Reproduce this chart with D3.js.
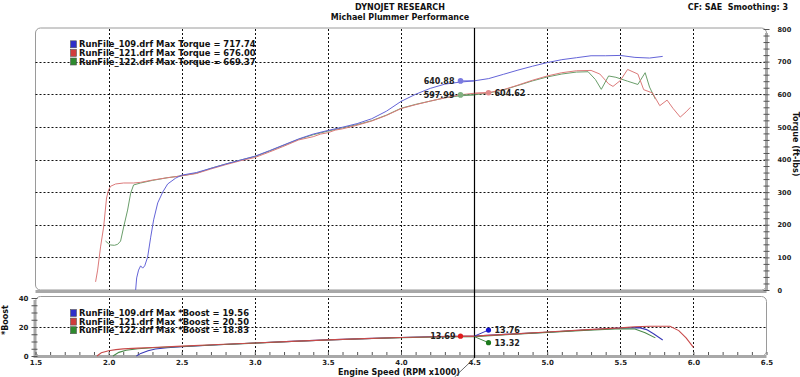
<!DOCTYPE html>
<html><head><meta charset="utf-8">
<script src="https://cdn.jsdelivr.net/npm/d3@7"></script>
<style>
html,body{margin:0;padding:0;background:#fff;}
svg{display:block;font-family:"DejaVu Sans",Verdana,sans-serif;font-weight:bold;}
</style></head>
<body>
<svg id="c" width="800" height="377"></svg>
<script>
// ---------- DATA ----------
const xTicks = [1.5,2.0,2.5,3.0,3.5,4.0,4.5,5.0,5.5,6.0,6.5];
const torqueTicks = [0,100,200,300,400,500,600,700,800];
const boostTicks = [0,20,40];
const seriesNames = ["RunFile_109.drf","RunFile_121.drf","RunFile_122.drf"];
const maxTorque = [717.74, 676.00, 669.37];
const maxBoost = [19.56, 20.50, 18.83];
const cursorRpm = 4.5;
const cursorTorque = [640.88, 604.62, 597.99];
const cursorBoost = [13.76, 13.69, 13.32];

const rpm109 = [2.185,2.192,2.205,2.219,2.233,2.247,2.267,2.288,2.308,2.336,2.370,2.404,2.459,2.5,2.6,2.7,2.8,2.9,3.0,3.1,3.2,3.3,3.4,3.5,3.6,3.7,3.8,3.9,4.0,4.1,4.2,4.3,4.4,4.5,4.6,4.7,4.8,4.9,5.0,5.1,5.2,5.3,5.4,5.5,5.6,5.7,5.79];
const tq109  = [0,37,61,74,67,74,101,162,215,267,300,325,343,352,360,373,386,398,410,427,445,463,478,489,499,510,525,548,578,600,618,631,637,641,648,661,674,686,697,706,712,718,718,719,713,711,716];

const rpm121 = [1.911,1.925,1.945,1.966,1.986,2.0,2.014,2.048,2.103,2.171,2.219,2.3,2.4,2.5,2.6,2.7,2.8,2.9,3.0,3.1,3.2,3.3,3.4,3.45,3.5,3.55,3.6,3.7,3.8,3.9,4.0,4.1,4.2,4.3,4.4,4.5,4.6,4.7,4.8,4.9,5.0,5.1,5.2,5.3,5.36,5.42,5.45,5.5,5.55,5.62,5.66,5.72,5.77,5.82,5.86,5.91,5.95,5.98];
const tq121  = [25,61,132,193,282,307,318,325,328,328,330,337,344,350,357,371,384,396,406,423,441,460,470,478,482,490,494,505,518,535,556,568,579,589,598,603,605,614,628,643,656,666,672,673,662,632,624,642,676,662,614,604,565,582,557,530,546,560];

const rpm122 = [1.979,2.0,2.014,2.04,2.062,2.082,2.103,2.13,2.151,2.171,2.219,2.3,2.4,2.5,2.6,2.7,2.8,2.9,3.0,3.1,3.2,3.3,3.4,3.5,3.6,3.7,3.8,3.9,4.0,4.1,4.2,4.3,4.4,4.5,4.6,4.7,4.8,4.9,5.0,5.1,5.2,5.28,5.33,5.37,5.42,5.47,5.55,5.62,5.67,5.7,5.74];
const tq122  = [150,142,138,137,140,150,193,245,297,322,328,336,344,350,358,373,386,398,409,426,444,462,476,487,497,507,519,536,557,569,579,589,595,598,604,613,627,641,653,662,668,669,645,615,656,652,640,630,666,622,585];

const bRpm109 = [2.19,2.22,2.27,2.32,2.4,2.5,2.75,3.0,3.25,3.5,3.75,4.0,4.25,4.5,4.75,5.0,5.25,5.5,5.63,5.68,5.73,5.79];
const boost109 = [0,1.8,3.6,4.8,5.7,6.4,7.8,9.0,10.1,11.1,12.0,12.8,13.4,13.76,15.1,16.4,17.9,19.2,19.56,18.2,15.2,11];
const bRpm121 = [1.92,1.95,2.0,2.05,2.1,2.2,2.3,2.5,2.75,3.0,3.25,3.5,3.75,4.0,4.25,4.5,4.75,5.0,5.25,5.5,5.6,5.7,5.84,5.9,5.95,6.0];
const boost121 = [0,2.2,3.6,4.4,4.9,5.4,5.9,6.8,7.9,9.0,10.1,11.1,12.0,12.8,13.3,13.69,15.1,16.5,18.0,19.4,20.2,20.5,20.5,17.5,12.5,6];
const bRpm122 = [2.03,2.07,2.12,2.2,2.3,2.5,2.75,3.0,3.25,3.5,3.75,4.0,4.25,4.5,4.75,5.0,5.25,5.5,5.6,5.67,5.74];
const boost122 = [0,2.5,4.0,5.0,5.7,6.6,7.8,8.9,10.0,11.0,11.9,12.7,13.1,13.32,14.9,16.3,17.7,18.8,18.6,16,12.5];

// ---------- STYLE / LAYOUT ----------
const lineCol = ["#6464d8","#dc7a7a","#6a9e6a"];
const boostCol = ["#3a3ab8","#c84a4a","#4a8a4a"];
const swatchCol = ["#2e2ec8","#d03c3c","#2e8a2e"];
const dotTop = ["#7a7ae0","#e08a8a","#80b080"];
const dotBot = ["#1414d0","#e01c1c","#1c7a1c"];
const L = 35.5, R = 766.5;
const T1 = 29, B1 = 290, T2 = 298, B2 = 356;
const tickFont = 6.6;

const svg = d3.select("#c");
const x = d3.scaleLinear().domain([1.5,6.5]).range([L,R]);
const yT = d3.scaleLinear().domain([0,800]).range([B1,T1]);
const yB = d3.scaleLinear().domain([0,40]).range([B2,T2]);

// titles
svg.append("text").attr("x",400).attr("y",9.5).attr("text-anchor","middle").attr("font-size",8).attr("fill","#111").text("DYNOJET RESEARCH");
svg.append("text").attr("x",400).attr("y",19.5).attr("text-anchor","middle").attr("font-size",8).attr("fill","#111").text("Michael Plummer Performance");
svg.append("text").attr("x",788).attr("y",9.5).attr("text-anchor","end").attr("font-size",8).attr("fill","#111")
  .attr("xml:space","preserve").style("white-space","pre").text("CF: SAE\u00a0\u00a0Smoothing: 3");

// panel outlines
svg.append("rect").attr("x",L).attr("y",28).attr("width",R-L).attr("height",B1-28).attr("rx",5).attr("fill","none").attr("stroke","#9a9a9a").attr("stroke-width",1);
svg.append("rect").attr("x",L).attr("y",296.5).attr("width",R-L).attr("height",B2-296.5).attr("rx",5).attr("fill","none").attr("stroke","#9a9a9a").attr("stroke-width",1);

// gridlines
const grid = svg.append("g").attr("stroke","#111").attr("stroke-width",1).attr("stroke-dasharray","2,2").attr("fill","none");
xTicks.filter(d=>d>1.5&&d<6.5).forEach(d=>{
  grid.append("line").attr("x1",Math.round(x(d))+0.5).attr("x2",Math.round(x(d))+0.5).attr("y1",T1).attr("y2",B1);
  grid.append("line").attr("x1",Math.round(x(d))+0.5).attr("x2",Math.round(x(d))+0.5).attr("y1",T2).attr("y2",B2);
});
torqueTicks.filter(d=>d>0&&d<800).forEach(d=>{
  grid.append("line").attr("x1",L).attr("x2",R).attr("y1",Math.round(yT(d))+0.5).attr("y2",Math.round(yT(d))+0.5);
});
grid.append("line").attr("x1",L).attr("x2",R).attr("y1",Math.round(yB(20))+0.5).attr("y2",Math.round(yB(20))+0.5);

// axis bars
const barCol = "#a8a8a8";
svg.append("rect").attr("x",L).attr("y",B1).attr("width",R-L).attr("height",3).attr("fill",barCol);
svg.append("rect").attr("x",R-1.5).attr("y",33).attr("width",3).attr("height",B1-33).attr("fill",barCol);
svg.append("rect").attr("x",L).attr("y",B2-1).attr("width",R-L).attr("height",3).attr("fill",barCol);
svg.append("rect").attr("x",L-2).attr("y",300).attr("width",3).attr("height",B2-298).attr("fill",barCol);

// right torque axis
const rAx = svg.append("g").attr("transform",`translate(${R},0)`)
  .call(d3.axisRight(yT).tickValues(d3.range(0,801,20)).tickFormat("").tickSizeInner(3).tickSizeOuter(0));
rAx.select(".domain").remove();
rAx.selectAll(".tick line").attr("stroke","#555").attr("x1",-3);
const rLab = svg.append("g").attr("transform",`translate(${R+9},0)`)
  .call(d3.axisRight(yT).tickValues(torqueTicks).tickSize(0).tickPadding(2));
rLab.select(".domain").remove();
rLab.selectAll("text").attr("font-size",tickFont).attr("font-weight","bold").attr("fill","#222").attr("font-family","DejaVu Sans");
svg.append("text").attr("transform","translate(793,144) rotate(90)").attr("text-anchor","middle").attr("font-size",8).attr("fill","#111").text("Torque (ft-lbs)");

// bottom x axis
const xMin = svg.append("g").attr("transform",`translate(0,${B2-1})`)
  .call(d3.axisTop(x).tickValues(d3.range(15,66,1).map(d=>d/10)).tickFormat("").tickSizeInner(3).tickSizeOuter(0));
xMin.select(".domain").remove();
xMin.selectAll(".tick line").attr("stroke","#555");
const xLab = svg.append("g").attr("transform",`translate(0,${B2+2})`)
  .call(d3.axisBottom(x).tickValues(xTicks).tickFormat(d3.format(".1f")).tickSize(0).tickPadding(2));
xLab.select(".domain").remove();
xLab.selectAll("text").attr("font-size",tickFont+0.4).attr("font-weight","bold").attr("fill","#222").attr("font-family","DejaVu Sans");
svg.append("text").attr("x",399).attr("y",374.5).attr("text-anchor","middle").attr("font-size",8).attr("fill","#111").text("Engine Speed (RPM x1000)");

// left boost axis
const yMin = svg.append("g").attr("transform",`translate(${L-1},0)`)
  .call(d3.axisRight(yB).tickValues(d3.range(0,41,5)).tickFormat("").tickSizeInner(3).tickSizeOuter(0));
yMin.select(".domain").remove();
yMin.selectAll(".tick line").attr("stroke","#555").attr("x1",-3);
const yLab = svg.append("g").attr("transform",`translate(${L-6},0)`)
  .call(d3.axisLeft(yB).tickValues(boostTicks).tickSize(0).tickPadding(1));
yLab.select(".domain").remove();
yLab.selectAll("text").attr("font-size",tickFont+0.4).attr("font-weight","bold").attr("fill","#222").attr("font-family","DejaVu Sans");
svg.append("text").attr("transform","translate(8,320) rotate(-90)").attr("text-anchor","middle").attr("font-size",8).attr("fill","#111").text("*Boost");

// curves
const lineT = d3.line().x(d=>x(d[0])).y(d=>yT(d[1]));
const lineB = d3.line().x(d=>x(d[0])).y(d=>yB(d[1]));
const tSeries = [d3.zip(rpm109,tq109), d3.zip(rpm121,tq121), d3.zip(rpm122,tq122)];
const bSeries = [d3.zip(bRpm109,boost109), d3.zip(bRpm121,boost121), d3.zip(bRpm122,boost122)];
[2,1,0].forEach(i=>{
  svg.append("path").attr("d",lineT(tSeries[i])).attr("fill","none").attr("stroke",lineCol[i]).attr("stroke-width",1);
});
[0,2,1].forEach(i=>{
  svg.append("path").attr("d",lineB(bSeries[i])).attr("fill","none").attr("stroke",boostCol[i]).attr("stroke-width",1.1);
});

// cursor
const cx = Math.round(x(cursorRpm))+0.5;
svg.append("line").attr("x1",cx).attr("x2",cx).attr("y1",T1-1).attr("y2",B2+2).attr("stroke","#000").attr("stroke-width",1.2);
svg.append("line").attr("x1",cx).attr("x2",cx-20).attr("y1",B2+2).attr("y2",377).attr("stroke","#444").attr("stroke-width",0.8);

// cursor markers (torque)
const tOff = [-14, 14, -14];
const tLabAnchor = ["end","start","end"];
cursorTorque.forEach((v,i)=>{
  const px = cx + tOff[i], py = yT(v);
  svg.append("line").attr("x1",cx).attr("x2",px).attr("y1",yT(tSeries[i].find(d=>d[0]===cursorRpm)[1])).attr("y2",py).attr("stroke",lineCol[i]).attr("stroke-width",1);
  svg.append("circle").attr("cx",px).attr("cy",py).attr("r",2.8).attr("fill",dotTop[i]);
  svg.append("text").attr("x",px + (tOff[i]<0?-6:6)).attr("y",py+3).attr("text-anchor",tLabAnchor[i]).attr("font-size",8).attr("fill","#222").text(v.toFixed(2));
});
// cursor markers (boost)
const bOff = [14, -14, 14];
const bDy = [-6, 0, 6];
cursorBoost.forEach((v,i)=>{
  const px = cx + bOff[i], py = yB(v) + bDy[i];
  svg.append("line").attr("x1",cx).attr("x2",px).attr("y1",yB(v)).attr("y2",py).attr("stroke",boostCol[i]).attr("stroke-width",1);
  svg.append("circle").attr("cx",px).attr("cy",py).attr("r",2.6).attr("fill",dotBot[i]);
  svg.append("text").attr("x",px + (bOff[i]<0?-5:6)).attr("y",py+3).attr("text-anchor",bOff[i]<0?"end":"start").attr("font-size",8).attr("fill","#222").text(v.toFixed(2));
});

// legends
function legend(y0, labelFn){
  seriesNames.forEach((n,i)=>{
    const y = y0 + i*8.6;
    svg.append("rect").attr("x",70.5).attr("y",y-3.5).attr("width",6).attr("height",7).attr("fill",swatchCol[i]).attr("stroke","#555").attr("stroke-width",0.6);
    svg.append("text").attr("x",79).attr("y",y+3).attr("font-size",8.4).attr("fill","#111").text(labelFn(n,i));
  });
}
legend(44.3, (n,i)=>`${n} Max Torque = ${maxTorque[i].toFixed(2)}`);
legend(313, (n,i)=>`${n} Max *Boost = ${maxBoost[i].toFixed(2)}`);
</script>
</body></html>
